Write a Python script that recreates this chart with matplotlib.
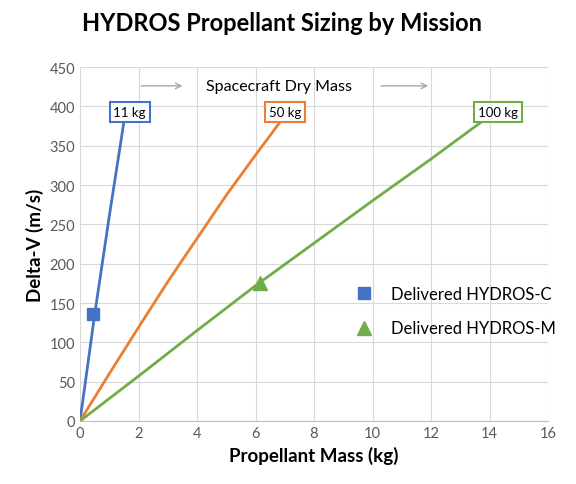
import matplotlib.pyplot as plt

plt.rcParams['font.family'] = ['Lato', 'DejaVu Sans']

# propellant mass (kg) vs delta-v (m/s) per dry mass
c_mass = [0, 0.5, 1.0, 1.5]
c_dv = [0, 135, 260, 380]
m50_mass = [0, 1, 2, 3, 4, 5, 6, 6.9]
m50_dv = [0, 60, 119, 177, 232, 287, 338, 383]
m100_mass = [0, 2, 4, 6, 8, 10, 12, 13.9]
m100_dv = [0, 57, 115, 172, 226, 280, 333, 385]

hydros_c = (0.45, 136)
hydros_m = (6.15, 176)

blue, orange, green = '#4472C4', '#ED7D31', '#70AD47'

fig = plt.figure(figsize=(5.76, 4.85), dpi=100)
ax = fig.add_axes([80 / 576, 63 / 485, 468 / 576, 354 / 485])

ax.plot(c_mass, c_dv, color=blue, lw=2)
ax.plot(m50_mass, m50_dv, color=orange, lw=2)
ax.plot(m100_mass, m100_dv, color=green, lw=2)
ax.plot(*hydros_c, 's', color=blue, ms=8, ls='none', label='Delivered HYDROS-C')
ax.plot(*hydros_m, '^', color=green, ms=10, ls='none', label='Delivered HYDROS-M')

for x, txt, col in [(1.7, '11 kg', blue), (7.0, '50 kg', orange), (14.3, '100 kg', green)]:
    ax.text(x, 393, txt, ha='center', va='center', fontsize=9.5,
            bbox=dict(boxstyle='square,pad=0.3', fc='white', ec=col, lw=1.5))

ax.text(6.8, 426, 'Spacecraft Dry Mass', ha='center', va='center', fontsize=11.5)
ax.annotate('', xy=(3.6, 426), xytext=(2.0, 426),
            arrowprops=dict(arrowstyle='->', color='#A6A6A6', lw=1))
ax.annotate('', xy=(12.0, 426), xytext=(10.2, 426),
            arrowprops=dict(arrowstyle='->', color='#A6A6A6', lw=1))

ax.set_xlim(0, 16)
ax.set_ylim(0, 450)
ax.set_xticks(range(0, 17, 2))
ax.set_yticks(range(0, 451, 50))
ax.grid(True, color='#D9D9D9', lw=0.8)
ax.set_axisbelow(True)
for s in ['top', 'right', 'left']:
    ax.spines[s].set_visible(False)
ax.spines['bottom'].set_color('#BFBFBF')
ax.tick_params(length=0, labelsize=10.5, colors='#595959')
ax.set_xlabel('Propellant Mass (kg)', fontsize=13.5, fontweight='bold')
ax.set_ylabel('Delta-V (m/s)', fontsize=13.5, fontweight='bold')
ax.legend(loc='center left', bbox_to_anchor=(0.54, 0.31), frameon=False,
          fontsize=12, labelspacing=1.1, handletextpad=0.6)
fig.suptitle('HYDROS Propellant Sizing by Mission', fontsize=17, fontweight='bold',
             x=0.49, y=0.975)

fig.savefig('out.png', dpi=100, facecolor='white')
